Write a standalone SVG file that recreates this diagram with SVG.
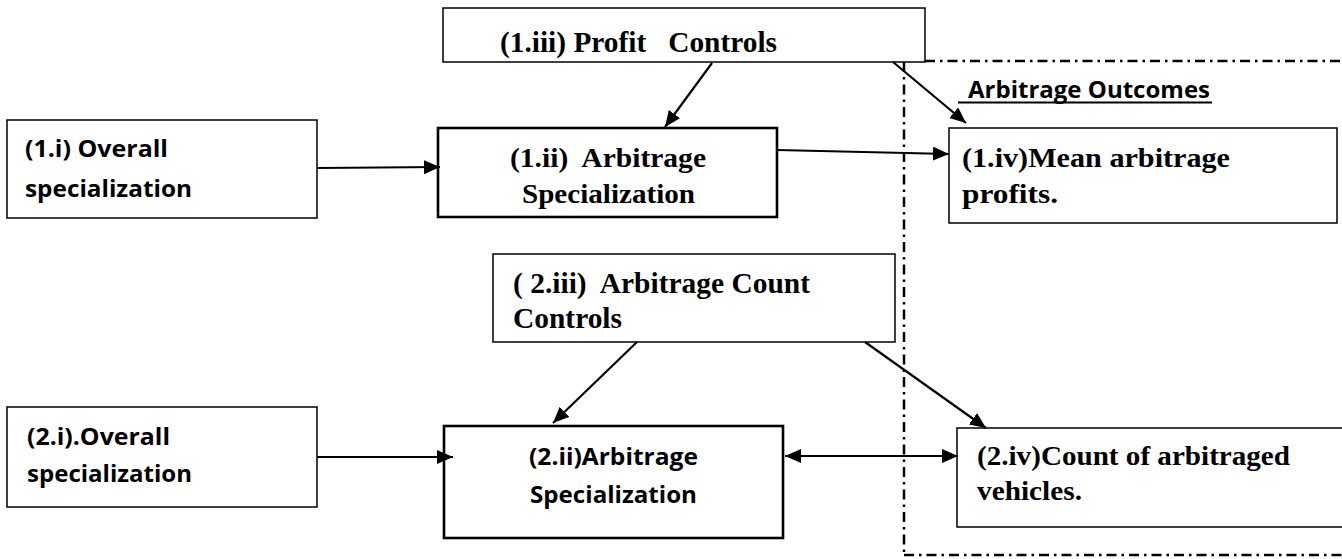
<svg xmlns="http://www.w3.org/2000/svg" width="1342" height="559" viewBox="0 0 1342 559">
<defs>
<style>
.box{fill:#fff;stroke:#000;stroke-width:1.5}
.thick{fill:#fff;stroke:#000;stroke-width:2.6}
.tr{font-family:"Liberation Serif","Times New Roman",serif;font-weight:bold;fill:#000;white-space:pre}
.ca{font-family:"Open Sans","Noto Sans",sans-serif;font-weight:bold;fill:#000;white-space:pre}
.conn{stroke:#000;stroke-width:2.2;fill:none}
.dd{stroke:#000;stroke-width:2.5;fill:none;stroke-dasharray:10 5 2.5 5}
</style>
<marker id="ah" markerUnits="userSpaceOnUse" markerWidth="18" markerHeight="15" refX="16" refY="7" orient="auto">
<path d="M0,0 L16,7 L0,14 Z" fill="#000"/>
</marker>
<marker id="ahs" markerUnits="userSpaceOnUse" markerWidth="18" markerHeight="15" refX="0" refY="7" orient="auto">
<path d="M16,0 L0,7 L16,14 Z" fill="#000"/>
</marker>
</defs>
<rect width="1342" height="559" fill="#fff"/>

<g id="outcomes-frame">
<line class="dd" x1="904" y1="62" x2="904" y2="555"/>
<line class="dd" x1="925" y1="61" x2="1342" y2="61"/>
<line class="dd" x1="904" y1="555" x2="1342" y2="555"/>
<text class="ca" x="968" y="98" font-size="24" textLength="242" lengthAdjust="spacingAndGlyphs">Arbitrage Outcomes</text>
<line x1="958" y1="102.5" x2="1212" y2="102.5" stroke="#000" stroke-width="1.8"/>
</g>

<g id="n1iii">
<rect class="box" x="443" y="8" width="482" height="54"/>
<text class="tr" x="500" y="52" font-size="30" textLength="277" lengthAdjust="spacingAndGlyphs" xml:space="preserve">(1.iii) Profit   Controls</text>
</g>

<g id="n1i">
<rect class="box" x="7" y="120" width="310" height="98"/>
<text class="ca" x="25" y="157" font-size="24" textLength="143" lengthAdjust="spacingAndGlyphs">(1.i) Overall</text>
<text class="ca" x="25" y="197" font-size="24" textLength="167" lengthAdjust="spacingAndGlyphs">specialization</text>
</g>

<g id="n1ii">
<rect class="thick" x="438" y="128" width="339" height="89"/>
<text class="tr" x="510" y="167" font-size="27" textLength="196" lengthAdjust="spacingAndGlyphs" xml:space="preserve">(1.ii)  Arbitrage</text>
<text class="tr" x="522" y="203" font-size="27" textLength="173" lengthAdjust="spacingAndGlyphs">Specialization</text>
</g>

<g id="n1iv">
<rect class="box" x="949" y="128" width="388" height="95"/>
<text class="tr" x="962" y="167" font-size="28" textLength="268" lengthAdjust="spacingAndGlyphs">(1.iv)Mean arbitrage</text>
<text class="tr" x="962" y="203" font-size="28" textLength="96" lengthAdjust="spacingAndGlyphs">profits.</text>
</g>

<g id="n2iii">
<rect class="box" x="493" y="254" width="402" height="88"/>
<text class="tr" x="513" y="293" font-size="29" textLength="297" lengthAdjust="spacingAndGlyphs" xml:space="preserve">( 2.iii)  Arbitrage Count</text>
<text class="tr" x="513" y="328" font-size="29" textLength="109" lengthAdjust="spacingAndGlyphs">Controls</text>
</g>

<g id="n2i">
<rect class="box" x="7" y="407" width="310" height="100"/>
<text class="ca" x="27" y="445" font-size="24" textLength="143" lengthAdjust="spacingAndGlyphs">(2.i).Overall</text>
<text class="ca" x="27" y="482" font-size="24" textLength="165" lengthAdjust="spacingAndGlyphs">specialization</text>
</g>

<g id="n2ii">
<rect class="thick" x="444" y="426" width="339" height="112"/>
<text class="ca" x="529" y="465" font-size="24" textLength="169" lengthAdjust="spacingAndGlyphs">(2.ii)Arbitrage</text>
<text class="ca" x="530" y="503" font-size="24" textLength="167" lengthAdjust="spacingAndGlyphs">Specialization</text>
</g>

<g id="n2iv">
<rect class="box" x="957" y="428" width="390" height="99"/>
<text class="tr" x="977" y="465" font-size="28" textLength="313" lengthAdjust="spacingAndGlyphs">(2.iv)Count of arbitraged</text>
<text class="tr" x="977" y="500" font-size="28" textLength="105" lengthAdjust="spacingAndGlyphs">vehicles.</text>
</g>

<g id="connectors">
<line class="conn" x1="317" y1="168" x2="440" y2="167" marker-end="url(#ah)"/>
<line class="conn" x1="712" y1="63" x2="665" y2="127" marker-end="url(#ah)"/>
<line class="conn" x1="893" y1="62" x2="966" y2="123" marker-end="url(#ah)"/>
<line class="conn" x1="777" y1="150" x2="949" y2="154" marker-end="url(#ah)"/>
<line class="conn" x1="317" y1="457" x2="453" y2="457" marker-end="url(#ah)"/>
<line class="conn" x1="637" y1="342" x2="553" y2="423" marker-end="url(#ah)"/>
<line class="conn" x1="865" y1="342" x2="986" y2="428" marker-end="url(#ah)"/>
<line class="conn" x1="785" y1="456" x2="958" y2="456" marker-start="url(#ahs)" marker-end="url(#ah)"/>
</g>
</svg>
